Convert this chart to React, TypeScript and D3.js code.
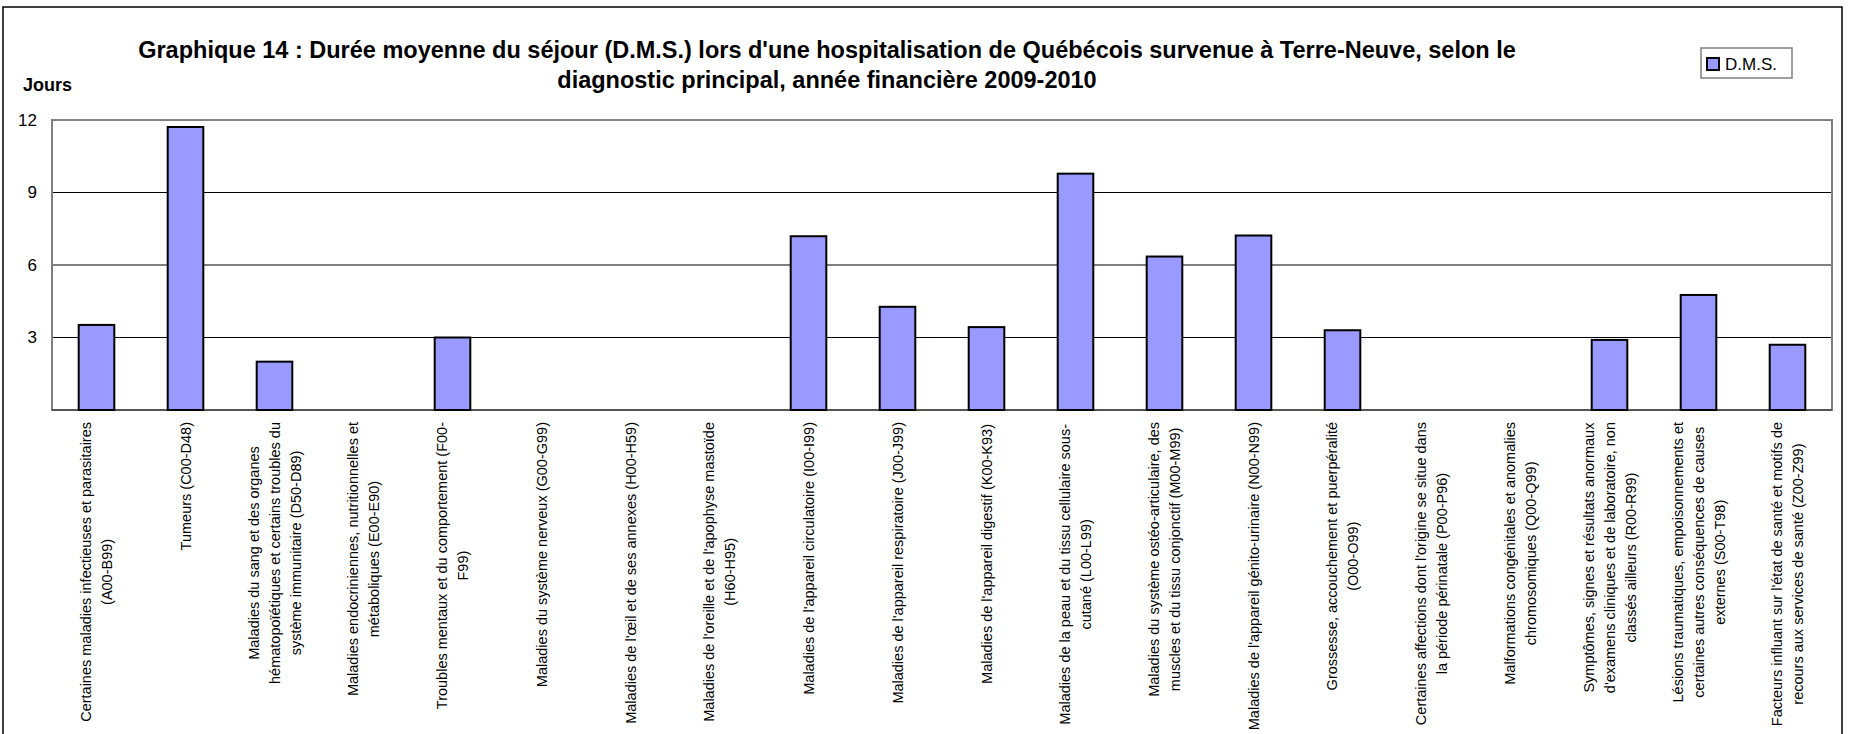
import * as d3 from 'd3'
import { useMemo } from 'react'

// Durée moyenne du séjour par diagnostic principal
const categories: string[][] = [
    ['Certaines maladies infectieuses et parasitaires', '(A00-B99)'],
    ['Tumeurs (C00-D48)'],
    ['Maladies du sang et des organes', 'hématopoïétiques et certains troubles du', 'système immunitaire (D50-D89)'],
    ['Maladies endocriniennes, nutritionnelles et', 'métaboliques (E00-E90)'],
    ['Troubles mentaux et du comportement (F00-', 'F99)'],
    ['Maladies du système nerveux (G00-G99)'],
    ["Maladies de l'œil et de ses annexes (H00-H59)"],
    ["Maladies de l'oreille et de l'apophyse mastoïde", '(H60-H95)'],
    ["Maladies de l'appareil circulatoire (I00-I99)"],
    ["Maladies de l'appareil respiratoire (J00-J99)"],
    ["Maladies de l'appareil digestif  (K00-K93)"],
    ['Maladies de  la peau et du tissu cellulaire sous-', 'cutané (L00-L99)'],
    ['Maladies du système ostéo-articulaire, des', 'muscles et du tissu conjonctif (M00-M99)'],
    ["Maladies de l'appareil génito-urinaire (N00-N99)"],
    ['Grossesse, accouchement et puerpéralité', '(O00-O99)'],
    ["Certaines affections dont l'origine se situe dans", 'la période périnatale (P00-P96)'],
    ['Malformations congénitales et anomalies', 'chromosomiques (Q00-Q99)'],
    ['Symptômes, signes et résultats anormaux', "d'examens cliniques et de laboratoire, non", 'classés ailleurs (R00-R99)'],
    ['Lésions traumatiques, empoisonnements et', 'certaines autres conséquences de causes', 'externes (S00-T98)'],
    ["Facteurs influant sur l'état de santé et motifs de", 'recours aux services de santé (Z00-Z99)']
]

const dms = [3.52, 11.71, 2.0, 0, 3.0, 0, 0, 0, 7.19, 4.27, 3.43, 9.78, 6.35, 7.22, 3.3, 0, 0, 2.9, 4.76, 2.7]

const yTicks = [3, 6, 9, 12]

const titleLines = [
    "Graphique 14 : Durée moyenne du séjour (D.M.S.) lors d'une hospitalisation de Québécois survenue à Terre-Neuve, selon le",
    'diagnostic principal, année financière 2009-2010'
]

const FONT = "'Liberation Sans', Arial, sans-serif"
const LABEL_SIZE = 14.5

const measure = (() => {
    let ctx: CanvasRenderingContext2D | null = null
    return (text: string, size: number) => {
        if (!ctx) ctx = document.createElement('canvas').getContext('2d')
        if (!ctx) return text.length * size * 0.5
        ctx.font = `${size}px ${FONT}`
        return ctx.measureText(text).width
    }
})()

const App = () => {
    const width = 1849
    const height = 734
    const plot = { left: 52, right: 1832, top: 120, bottom: 410 }

    const keys = categories.map((_, i) => String(i))

    const x = useMemo(() => {
        return d3
            .scaleBand()
            .domain(keys)
            .range([plot.left, plot.right])
            .paddingInner(0.6)
            .paddingOuter(0.3)
    }, [])

    const y = useMemo(() => {
        return d3.scaleLinear().domain([0, 12]).range([plot.bottom, plot.top])
    }, [])

    const bars = dms.map((v, i) => {
        if (v <= 0) return null
        return (
            <rect
                key={i}
                x={x(String(i))}
                y={y(v)}
                width={x.bandwidth()}
                height={y(0) - y(v)}
                fill="#9999FF"
                stroke="black"
                strokeWidth={2}
            />
        )
    })

    const labels = categories.map((lines, i) => {
        const cx = x(String(i))! + x.bandwidth() / 2
        const maxLen = d3.max(lines, l => measure(l, LABEL_SIZE)) ?? 0
        const cy = 422 + maxLen / 2
        const gap = 21
        return (
            <g key={i}>
                {lines.map((line, j) => {
                    const lx = cx + (j - (lines.length - 1) / 2) * gap
                    return (
                        <text
                            key={j}
                            transform={`translate(${lx},${cy}) rotate(-90)`}
                            textAnchor="middle"
                            dominantBaseline="central"
                            fontSize={LABEL_SIZE}
                            fontFamily={FONT}
                        >
                            {line}
                        </text>
                    )
                })}
            </g>
        )
    })

    return (
        <svg
            width={width}
            height={height}
            style={{ position: 'absolute', left: 0, top: 0, display: 'block', background: 'white' }}
        >
            <rect x={3} y={7} width={1839} height={800} fill="white" stroke="black" strokeWidth={1.5} />

            {titleLines.map((t, i) => (
                <text
                    key={i}
                    x={827}
                    y={58 + i * 30}
                    textAnchor="middle"
                    fontSize={23.5}
                    fontWeight="bold"
                    fontFamily={FONT}
                >
                    {t}
                </text>
            ))}

            <text x={23} y={91} fontSize={18} fontWeight="bold" fontFamily={FONT}>
                Jours
            </text>

            {yTicks.map(t => (
                <line key={t} x1={plot.left} x2={plot.right} y1={y(t)} y2={y(t)} stroke="black" strokeWidth={1} />
            ))}

            <rect
                x={plot.left}
                y={plot.top}
                width={plot.right - plot.left}
                height={plot.bottom - plot.top}
                fill="none"
                stroke="#808080"
                strokeWidth={2}
            />
            <line x1={plot.left} x2={plot.right} y1={plot.bottom} y2={plot.bottom} stroke="#555" strokeWidth={2} />

            {yTicks.map(t => (
                <text
                    key={t}
                    x={37}
                    y={y(t)}
                    textAnchor="end"
                    dominantBaseline="central"
                    fontSize={17}
                    fontFamily={FONT}
                >
                    {t}
                </text>
            ))}

            {bars}
            {labels}

            <g>
                <rect x={1701} y={48} width={91} height={30} fill="white" stroke="#808080" strokeWidth={1.5} />
                <rect x={1707} y={58} width={12} height={12} fill="#9999FF" stroke="black" strokeWidth={2} />
                <text x={1725} y={69.5} fontSize={17} fontFamily={FONT}>
                    D.M.S.
                </text>
            </g>
        </svg>
    )
}

export default App
